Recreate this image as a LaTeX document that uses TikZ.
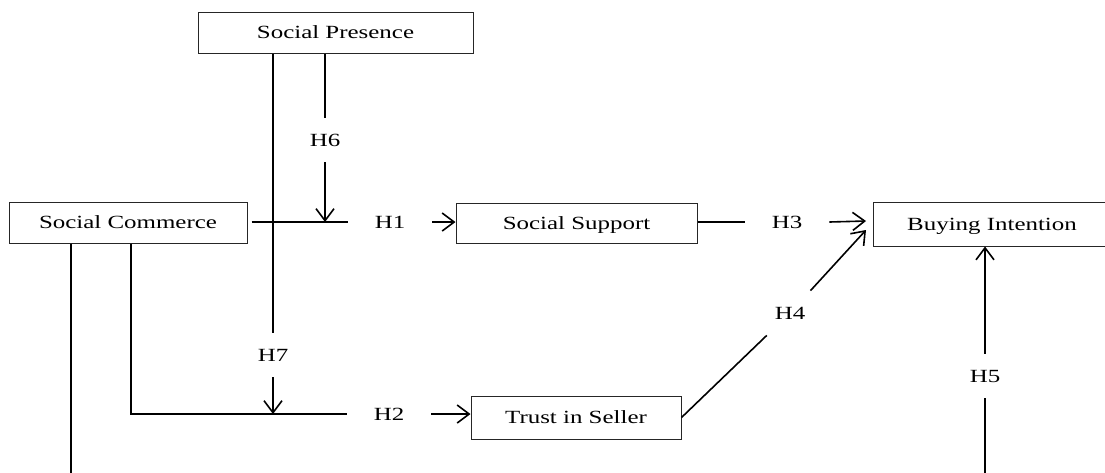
\documentclass[tikz,border=0pt]{standalone}
\usepackage{fontspec}
\setmainfont{Liberation Serif}[FakeStretch=1.34]
\usetikzlibrary{arrows.meta}
\begin{document}
\begin{tikzpicture}[x=1pt,y=-1pt,
  lblfont/.style={font=\fontsize{18.6}{21}\selectfont},
  box/.style={draw=black!85, line width=1pt, minimum height=41pt,
    text height=12.3pt, text depth=0pt, inner sep=0pt, lblfont},
  hlab/.style={inner xsep=27pt, inner ysep=16pt, text height=12.3pt,
    text depth=0pt, lblfont},
  conn/.style={line width=1.6pt},
  arr/.style={conn, -{Straight Barb[length=12pt,width=18pt]}}
]
\useasboundingbox (0,0) rectangle (1105,472);
\fill[white] (0,0) rectangle (1105,472);
\clip (0,0) rectangle (1105,472);

% boxes
\node[box, minimum width=275pt] (SP) at (335.5,32.5) {Social Presence};
\node[box, minimum width=238pt] (SC) at (128,222.5) {Social Commerce};
\node[box, minimum width=241pt, minimum height=40pt] (SS) at (576.5,223) {Social Support};
\node[box, minimum width=238pt, minimum height=44pt] (BI) at (992,224) {Buying Intention};
\node[box, minimum width=210pt, minimum height=43pt] (TS) at (576,417.5) {Trust in Seller};

% labels
\node[hlab] (h6) at (325,140) {H6};
\node[hlab] (h7) at (273,355) {H7};
\node[hlab] (h5) at (985,376) {H5};
\node[hlab] (h1) at (390,222) {H1};
\node[hlab] (h3) at (787,222) {H3};
\node[hlab] (h2) at (389,414) {H2};
\node[hlab] (h4) at (790,313) {H4};

% junctions and free ends
\coordinate (j1) at (325,222);
\coordinate (j2) at (273,414);
\coordinate (c2) at (131,414);
\coordinate (t3) at (866,221);
\coordinate (t4) at (866,230);
\coordinate (b1) at (71,480);
\coordinate (b5) at (985,480);

% connectors
\draw[conn] (SP.south -| j2) -- (h7.north);
\draw[arr] (h7.south) -- (j2);
\draw[conn] (SP.south -| j1) -- (h6.north);
\draw[arr] (h6.south) -- (j1);
\draw[conn, shorten <=4pt] (SC.east |- j1) -- (h1.west);
\draw[arr] (h1.east) -- (h1.east -| SS.west);
\draw[conn] (SS.east |- h3) -- (h3.west);
\draw[arr] (h3.east) -- (t3);
\draw[conn] (TS.east) -- (h4);
\draw[arr] (h4) -- (t4);
\draw[conn] (b5) -- (h5.south);
\draw[arr] (h5.north) -- (BI.south -| h5);
\draw[conn] (SC.south -| c2) -- (c2) -- (h2.west);
\draw[arr] (h2.east) -- (h2.east -| TS.west);
\draw[conn] (SC.south -| b1) -- (b1);
\end{tikzpicture}
\end{document}
